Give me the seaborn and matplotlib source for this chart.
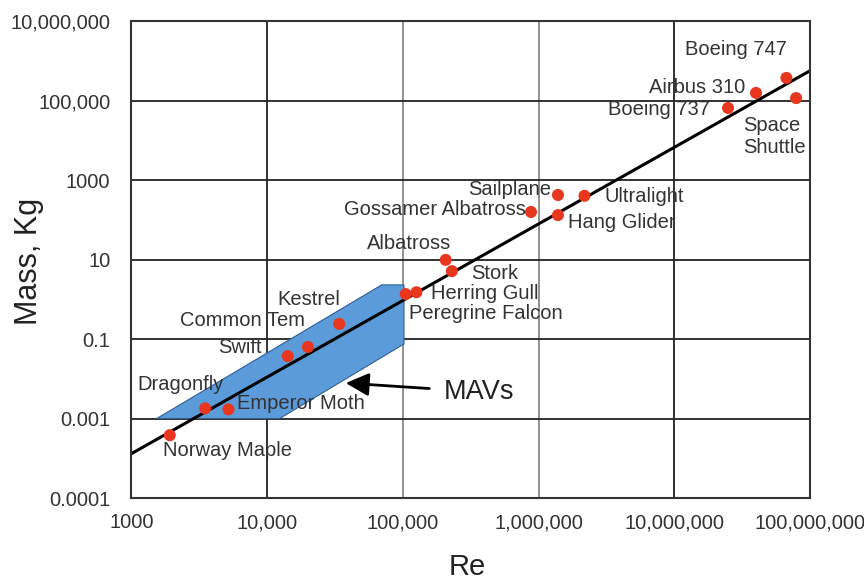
import numpy as np
import pandas as pd
import matplotlib
matplotlib.use("Agg")
import matplotlib.pyplot as plt
import seaborn as sns

# Data (Re vs mass, log-log)
names = ["Norway Maple", "Dragonfly", "Emperor Moth", "Swift", "Common Tem",
         "Kestrel", "Peregrine Falcon", "Herring Gull", "Albatross", "Stork",
         "Gossamer Albatross", "Sailplane", "Hang Glider", "Ultralight",
         "Boeing 737", "Airbus 310", "Boeing 747", "Space\nShuttle"]
re_values = [1.92e3, 3.5e3, 5.2e3, 1.42e4, 2.0e4,
             3.4e4, 1.05e5, 1.26e5, 2.07e5, 2.3e5,
             8.8e5, 1.39e6, 1.39e6, 2.18e6,
             2.49e7, 4.0e7, 6.7e7, 7.9e7]
mass_values = [3.8e-4, 1.8e-3, 1.7e-3, 0.037, 0.063,
               0.24, 1.35, 1.5, 9.8, 5.1,
               157, 420, 131, 400,
               6.5e4, 1.55e5, 3.7e5, 1.15e5]

# label offsets in pixels and horizontal alignment
label_dx = [-7, -68, 8, -26, -3, 1, 3, 15, 6, 19, -5, -7, 10, 20, -18, -11, 0, -53]
label_dy = [-15, 24, 6, 9, 26, 24, -19, -1, 16, -2, 2, 5, -7, -1, -2, 5, 28, -38]
label_ha = ["left", "left", "left", "right", "right", "right", "left", "left",
            "right", "left", "right", "right", "left", "left", "right", "right",
            "right", "left"]

# trend line
fit_re = [1e3, 1e8]
fit_mass = [1.3e-4, 5.6e5]

# MAV region outline
mav_re = [1.54e3, 7.0e4, 1.02e5, 1.02e5, 1.24e4]
mav_mass = [1e-3, 2.3, 2.3, 0.075, 1e-3]

x_ticks = [1e3, 1e4, 1e5, 1e6, 1e7, 1e8]
x_ticklabels = ["1000", "10,000", "100,000", "1,000,000", "10,000,000", "100,000,000"]
y_ticks = [1e-5, 1e-3, 1e-1, 1e1, 1e3, 1e5, 1e7]
y_ticklabels = ["0.0001", "0.001", "0.1", "10", "1000", "100,000", "10,000,000"]

sns.set_style("white")
plt.rcParams['font.family'] = ['Liberation Sans', 'DejaVu Sans']

df = pd.DataFrame({"Re": re_values, "Mass": mass_values, "name": names})
fit_df = pd.DataFrame({"Re": fit_re, "Mass": fit_mass})

fig = plt.figure(figsize=(8.64, 5.85), dpi=100)
ax = fig.add_axes([0.152, 0.1487, 0.7855, 0.8154])
ax.set_xscale("log")
ax.set_yscale("log")
ax.set_xlim(1e3, 1e8)
ax.set_ylim(1e-5, 1e7)

# grid
for x in x_ticks[1:-1]:
    col = "#888888" if x in (1e5, 1e6) else "#222222"
    ax.axvline(x, color=col, lw=1.3, zorder=0)
for y in y_ticks[1:-1]:
    ax.axhline(y, color="#222222", lw=1.3, zorder=0)

ax.fill(mav_re, mav_mass, facecolor="#5c9bd9", edgecolor="#2f5d96", lw=0.8, zorder=1)

sns.lineplot(data=fit_df, x="Re", y="Mass", color="black", lw=2.2, ax=ax, zorder=2)
sns.scatterplot(data=df, x="Re", y="Mass", color="#e8361f", s=75, edgecolor="none",
                ax=ax, zorder=3)

for n, xr, ym, dx, dy, ha in zip(names, re_values, mass_values, label_dx, label_dy, label_ha):
    ax.annotate(n, (xr, ym), xytext=(dx, dy), textcoords="offset pixels",
                ha=ha, va="center", fontsize=14.5, color="#333333",
                linespacing=1.2, zorder=4)

ax.annotate("MAVs", xy=(3.8e4, 0.0078), xytext=(2.0e5, 0.0047),
            fontsize=19.5, color="#222222", va="center", ha="left",
            arrowprops=dict(arrowstyle="-|>,head_length=0.7,head_width=0.35",
                            color="black", lw=2, mutation_scale=20,
                            shrinkA=8, shrinkB=0))

ax.set_xticks(x_ticks)
ax.set_xticklabels(x_ticklabels)
ax.set_yticks(y_ticks)
ax.set_yticklabels(y_ticklabels)
ax.minorticks_off()
ax.tick_params(axis="x", length=0, pad=11, labelsize=14.5, colors="#333333")
ax.tick_params(axis="y", length=0, pad=15, labelsize=14.5, colors="#333333")

for s in ax.spines.values():
    s.set_color("#333333")
    s.set_linewidth(1.5)

ax.set_xlabel("Re", fontsize=21, color="#222222")
ax.set_ylabel("Mass, Kg", fontsize=22, color="#222222")
ax.xaxis.set_label_coords(0.495, -0.116)
ax.yaxis.set_label_coords(-0.128, 0.495)

plt.savefig("out.png", dpi=100)
plt.close()
